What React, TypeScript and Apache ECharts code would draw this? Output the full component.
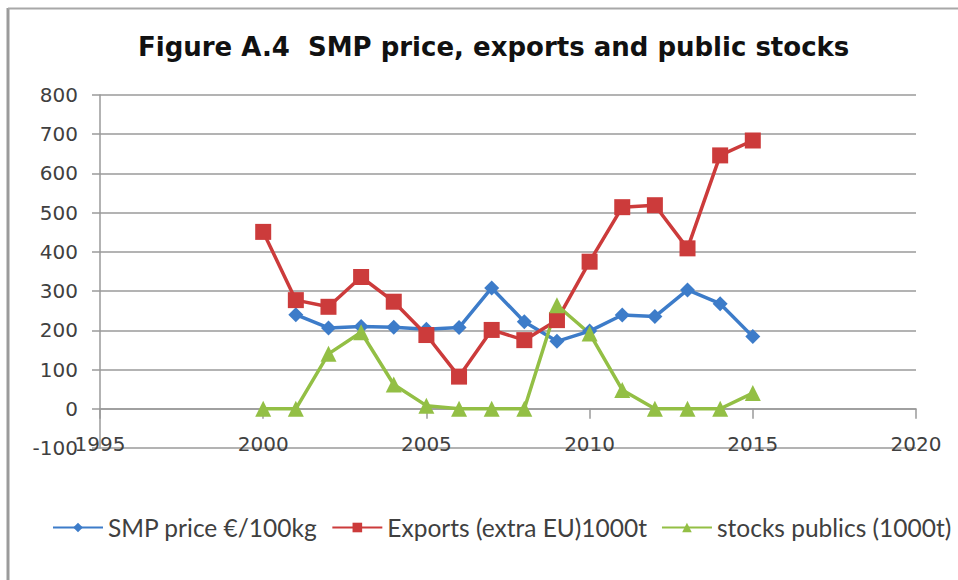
import React, { useEffect, useRef } from "react";
import * as echarts from "echarts";

const years = [2000, 2001, 2002, 2003, 2004, 2005, 2006, 2007, 2008, 2009, 2010, 2011, 2012, 2013, 2014, 2015];
const smpPrice = [null, 240, 206, 210, 208, 203, 207, 308, 222, 172, 198, 239, 235, 303, 268, 184];
const exportsExtraEU = [451, 277, 260, 336, 273, 188, 82, 201, 175, 226, 375, 514, 519, 409, 646, 684];
const publicStocks = [0, 0, 140, 195, 62, 8, 0, 0, 0, 264, 192, 48, 0, 0, 0, 40];

const seriesNames = ["SMP price €/100kg", "Exports (extra EU)1000t", "stocks publics (1000t)"];
const yTicks = { min: -100, max: 800, interval: 100 };
const xTicks = { min: 1995, max: 2020, interval: 5 };

const pairs = (vals: (number | null)[]) =>
  years.map((y, i) => [y, vals[i]]).filter((p) => p[1] !== null);

export default function App() {
  const ref = useRef<HTMLDivElement>(null);
  useEffect(() => {
    if (!ref.current) return;
    const chart = echarts.init(ref.current, null, { renderer: "svg" });
    const labelFont = { fontFamily: "DejaVu Sans", fontSize: 20, color: "#404040" };
    chart.setOption({
      animation: false,
      backgroundColor: "#ffffff",
      title: {
        text: "Figure A.4  SMP price, exports and public stocks",
        left: 133,
        top: 29,
        textStyle: { fontFamily: "DejaVu Sans", fontWeight: "bold", fontSize: 26, color: "#111111" },
      },
      grid: { left: 100, right: 42, top: 95, bottom: 132 },
      xAxis: {
        type: "value",
        min: xTicks.min,
        max: xTicks.max,
        interval: xTicks.interval,
        axisLine: { onZero: true, lineStyle: { color: "#9a9a9a", width: 1.5 } },
        axisTick: { show: true, length: 10, lineStyle: { color: "#9a9a9a", width: 1.5 } },
        axisLabel: { ...labelFont, margin: -14, formatter: (v: number) => String(v) },
        splitLine: { show: false },
      },
      yAxis: {
        type: "value",
        min: yTicks.min,
        max: yTicks.max,
        interval: yTicks.interval,
        axisLine: { show: true, onZero: false, lineStyle: { color: "#9a9a9a", width: 1.5 } },
        axisTick: { show: true, length: 8, lineStyle: { color: "#9a9a9a", width: 1.5 } },
        axisLabel: { ...labelFont, margin: 22, formatter: (v: number) => String(v) },
        splitLine: { show: true, lineStyle: { color: "#9a9a9a", width: 1.5 } },
      },
      legend: {
        bottom: 40,
        left: 52,
        width: 906,
        padding: 0,
        itemWidth: 50,
        itemHeight: 12,
        itemGap: 14,
        textStyle: { fontFamily: "Lato", fontSize: 24.5, color: "#404040" },
        data: seriesNames,
      },
      graphic: [
        { type: "line", shape: { x1: 8, y1: 8, x2: 8, y2: 580 }, style: { stroke: "#9b9b9b", lineWidth: 3 } },
        { type: "line", shape: { x1: 8, y1: 8.5, x2: 958, y2: 8.5 }, style: { stroke: "#a8a8a8", lineWidth: 2 } },
      ],
      series: [
        {
          name: seriesNames[0],
          type: "line",
          data: pairs(smpPrice),
          symbol: "diamond",
          symbolSize: 15,
          lineStyle: { color: "#3d7cc9", width: 3.5 },
          itemStyle: { color: "#3d7cc9" },
        },
        {
          name: seriesNames[1],
          type: "line",
          data: pairs(exportsExtraEU),
          symbol: "rect",
          symbolSize: 16,
          lineStyle: { color: "#cc3b3b", width: 3.5 },
          itemStyle: { color: "#cc3b3b" },
        },
        {
          name: seriesNames[2],
          type: "line",
          data: pairs(publicStocks),
          symbol: "triangle",
          symbolSize: 16,
          lineStyle: { color: "#93bf45", width: 3.5 },
          itemStyle: { color: "#93bf45" },
        },
      ],
    });
    return () => chart.dispose();
  }, []);
  return (
    <div
      ref={ref}
      style={{ position: "fixed", left: 0, top: 0, width: 958, height: 580, background: "#fff" }}
    />
  );
}
